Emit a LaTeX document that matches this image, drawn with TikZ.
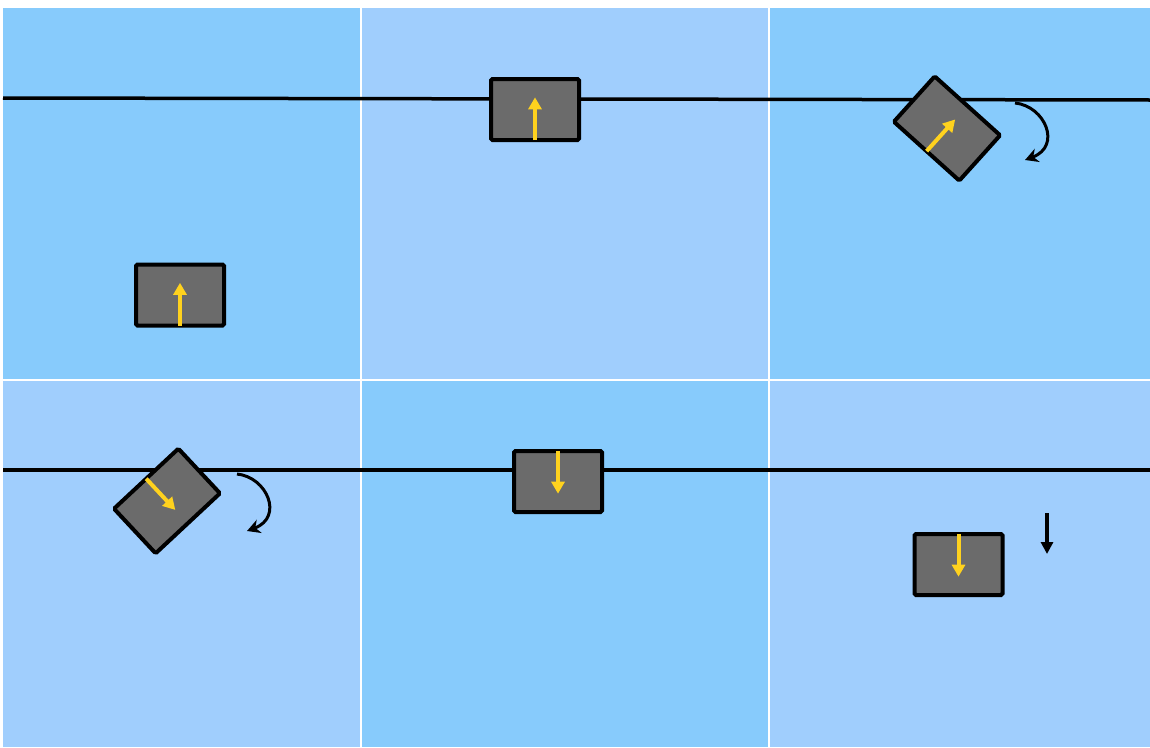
\documentclass[tikz,border=0pt]{standalone}
\usetikzlibrary{arrows.meta,calc}
\definecolor{paneldark}{RGB}{135,203,252}
\definecolor{panellight}{RGB}{160,206,253}
\definecolor{boxgray}{RGB}{107,107,107}
\definecolor{arrowyellow}{RGB}{255,210,30}
\tikzset{
  track/.style={line width=3.5pt,black},
  cart/.style={draw=black,line width=4pt,fill=boxgray,rounded corners=1.5pt,
    minimum width=88pt,minimum height=61pt,inner sep=0pt,outer sep=0pt},
  yarrow/.style={line width=4pt,arrowyellow,-{Triangle[length=12pt,width=13pt]}},
  turnarrow/.style={line width=3pt,black,-{Stealth[length=13pt,width=14pt]}},
  droparrow/.style={line width=3.5pt,black,-{Triangle[length=12pt,width=12pt]}}
}
\begin{document}
\begin{tikzpicture}[x=1pt,y=-1pt]
\useasboundingbox (0,0) rectangle (1150,747);
\fill[white] (0,0) rectangle (1150,747);
% panels
\fill[paneldark]  (3,8) rectangle (360,379);
\fill[panellight] (362,8) rectangle (768,379);
\fill[paneldark]  (770,8) rectangle (1150,379);
\fill[panellight] (3,381) rectangle (360,747);
\fill[paneldark]  (362,381) rectangle (768,747);
\fill[panellight] (770,381) rectangle (1150,747);
% tracks
\coordinate (t1a) at (3,98);
\coordinate (t1b) at (1150,100);
\coordinate (t2a) at (3,470);
\coordinate (t2b) at (1150,470);
\draw[track] (t1a) -- (t1b);
\draw[track] (t2a) -- (t2b);
% carts
\node[cart] (c1) at (180,295) {};
\node[cart] (c2) at (535,109.5) {};
\node[cart,rotate=-42] (c3) at (947,128.5) {};
\node[cart,rotate=43] (c4) at (167,501) {};
\node[cart] (c5) at (558,481.5) {};
\node[cart] (c6) at (958.5,564.5) {};
% yellow arrows
\draw[yarrow] (c1.south) -- ($(c1.south)!1.4!(c1.center)$);
\draw[yarrow] (c2.south) -- ($(c2.south)!1.4!(c2.center)$);
\draw[yarrow] (c3.south) -- ($(c3.south)!1.4!(c3.center)$);
\draw[yarrow] (c4.north) -- ($(c4.north)!1.4!(c4.center)$);
\draw[yarrow] (c5.north) -- ($(c5.north)!1.4!(c5.center)$);
\draw[yarrow] (c6.north) -- ($(c6.north)!1.4!(c6.center)$);
% turn arrows
\coordinate (r1s) at (1015,103);
\coordinate (r1e) at (1025,160);
\draw[turnarrow] (r1s) .. controls (1045,106) and (1062,146) .. (r1e);
\coordinate (r2s) at (237,474);
\coordinate (r2e) at (247,531);
\draw[turnarrow] (r2s) .. controls (267,477) and (284,517) .. (r2e);
% drop arrow
\coordinate (d1s) at (1047,513);
\coordinate (d1e) at (1047,554);
\draw[droparrow] (d1s) -- (d1e);
\end{tikzpicture}
\end{document}
